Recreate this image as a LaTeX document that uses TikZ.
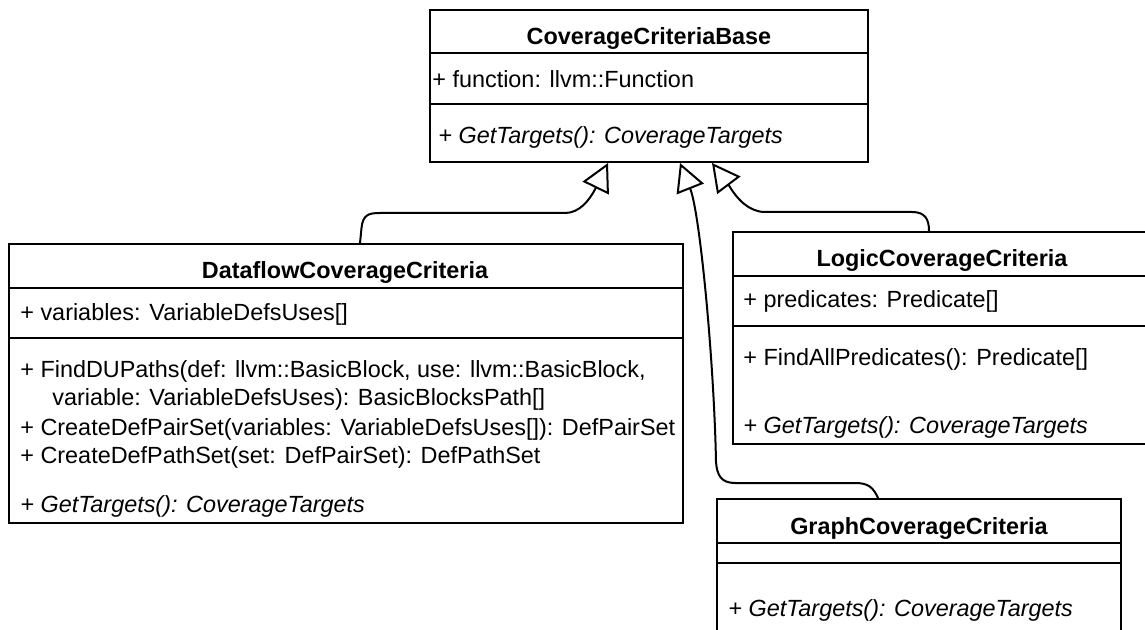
\documentclass[tikz,border=0pt]{standalone}
\usepackage{fontspec}
\setmainfont{Liberation Sans}
\usetikzlibrary{arrows.meta,fit}
\tikzset{
  classbox/.style={draw=black, line width=1pt, inner sep=0pt, fill=white},
  divider/.style={draw=black, line width=1pt},
  member/.style={anchor=base west, inner sep=0pt, font=\fontsize{11.7}{14}\selectfont},
  abstractop/.style={anchor=base west, inner sep=0pt, font=\fontsize{11.7}{14}\selectfont\itshape},
  classname/.style={anchor=base, inner sep=0pt, font=\fontsize{11.7}{14}\selectfont\bfseries},
  inherit/.style={draw=black, line width=1pt, -{Triangle[open, length=14pt, width=14.5pt]}},
}
\begin{document}
\begin{tikzpicture}[x=0.5pt, y=-0.5pt]
\useasboundingbox (0,0) rectangle (1145,630);
\clip (0,0) rectangle (1145,630);

% ---- CoverageCriteriaBase ----
\node[classbox, fit={(430,10) (868,162)}] (base) {};
\draw[divider] (base.west |- 0,53) -- (base.east |- 0,53);
\draw[divider] (base.west |- 0,104) -- (base.east |- 0,104);
\node[classname] (baseT) at (base.north |- 0,44.3) {CoverageCriteriaBase};
\node[member] (baseA) at (432,87.3) {+ function: llvm::Function};
\node[abstractop] (baseM) at (438,144) {+ GetTargets(): CoverageTargets};

% ---- DataflowCoverageCriteria ----
\node[classbox, fit={(9,244) (682.5,523.3)}] (data) {};
\draw[divider] (data.west |- 0,287.7) -- (data.east |- 0,287.7);
\draw[divider] (data.west |- 0,338.3) -- (data.east |- 0,338.3);
\node[classname] (dataT) at (345,278.3) {DataflowCoverageCriteria};
\node[member] (dataA) at (20,320.7) {+ variables: VariableDefsUses[]};
\node[member] (dataM1) at (20,377.7) {+ FindDUPaths(def: llvm::BasicBlock, use: llvm::BasicBlock,};
\node[member] (dataM1b) at (52,406) {variable: VariableDefsUses): BasicBlocksPath[]};
\node[member] (dataM2) at (20,435) {+ CreateDefPairSet(variables: VariableDefsUses[]): DefPairSet};
\node[member] (dataM3) at (20,463.3) {+ CreateDefPathSet(set: DefPairSet): DefPathSet};
\node[abstractop] (dataM4) at (20,512.7) {+ GetTargets(): CoverageTargets};

% ---- LogicCoverageCriteria ----
\node[classbox, fit={(733,232) (1150,444)}] (logic) {};
\draw[divider] (logic.west |- 0,276) -- (logic.east |- 0,276);
\draw[divider] (logic.west |- 0,326) -- (logic.east |- 0,326);
\node[classname] (logicT) at (942,266.7) {LogicCoverageCriteria};
\node[member] (logicA) at (743,308) {+ predicates: Predicate[]};
\node[member] (logicM1) at (743,365.7) {+ FindAllPredicates(): Predicate[]};
\node[abstractop] (logicM2) at (743,433.3) {+ GetTargets(): CoverageTargets};

% ---- GraphCoverageCriteria ----
\node[classbox, fit={(717,499) (1121,660)}] (graph) {};
\draw[divider] (graph.west |- 0,543) -- (graph.east |- 0,543);
\draw[divider] (graph.west |- 0,563) -- (graph.east |- 0,563);
\node[classname] (graphT) at (graph.north |- 0,534.3) {GraphCoverageCriteria};
\node[abstractop] (graphM) at (728,616) {+ GetTargets(): CoverageTargets};

% ---- generalisation tips on the base class ----
\coordinate (tipD) at (base.south -| 608,0);
\coordinate (tipG) at (base.south -| 680,0);
\coordinate (tipL) at (base.south -| 712,0);

% ---- generalisations ----
\draw[inherit] (data.north -| 360,0) -- (361.5,228)
  .. controls (363,215) and (368,213) .. (380,213) -- (565,213)
  .. controls (579,213) and (589,201) .. (595.5,188.5) -- (tipD);
\draw[inherit] (graph.north -| 878,0)
  .. controls (873,487) and (868,483) .. (855,483) -- (735,483)
  .. controls (721,483) and (717,475) .. (716,462)
  .. controls (714,360) and (700,215) .. (690.5,189.5) -- (tipG);
\draw[inherit] (logic.north -| 929,0)
  .. controls (929,219) and (925,212) .. (912,212) -- (765,212)
  .. controls (749,212) and (737,199) .. (729,185.5) -- (tipL);
\end{tikzpicture}
\end{document}
